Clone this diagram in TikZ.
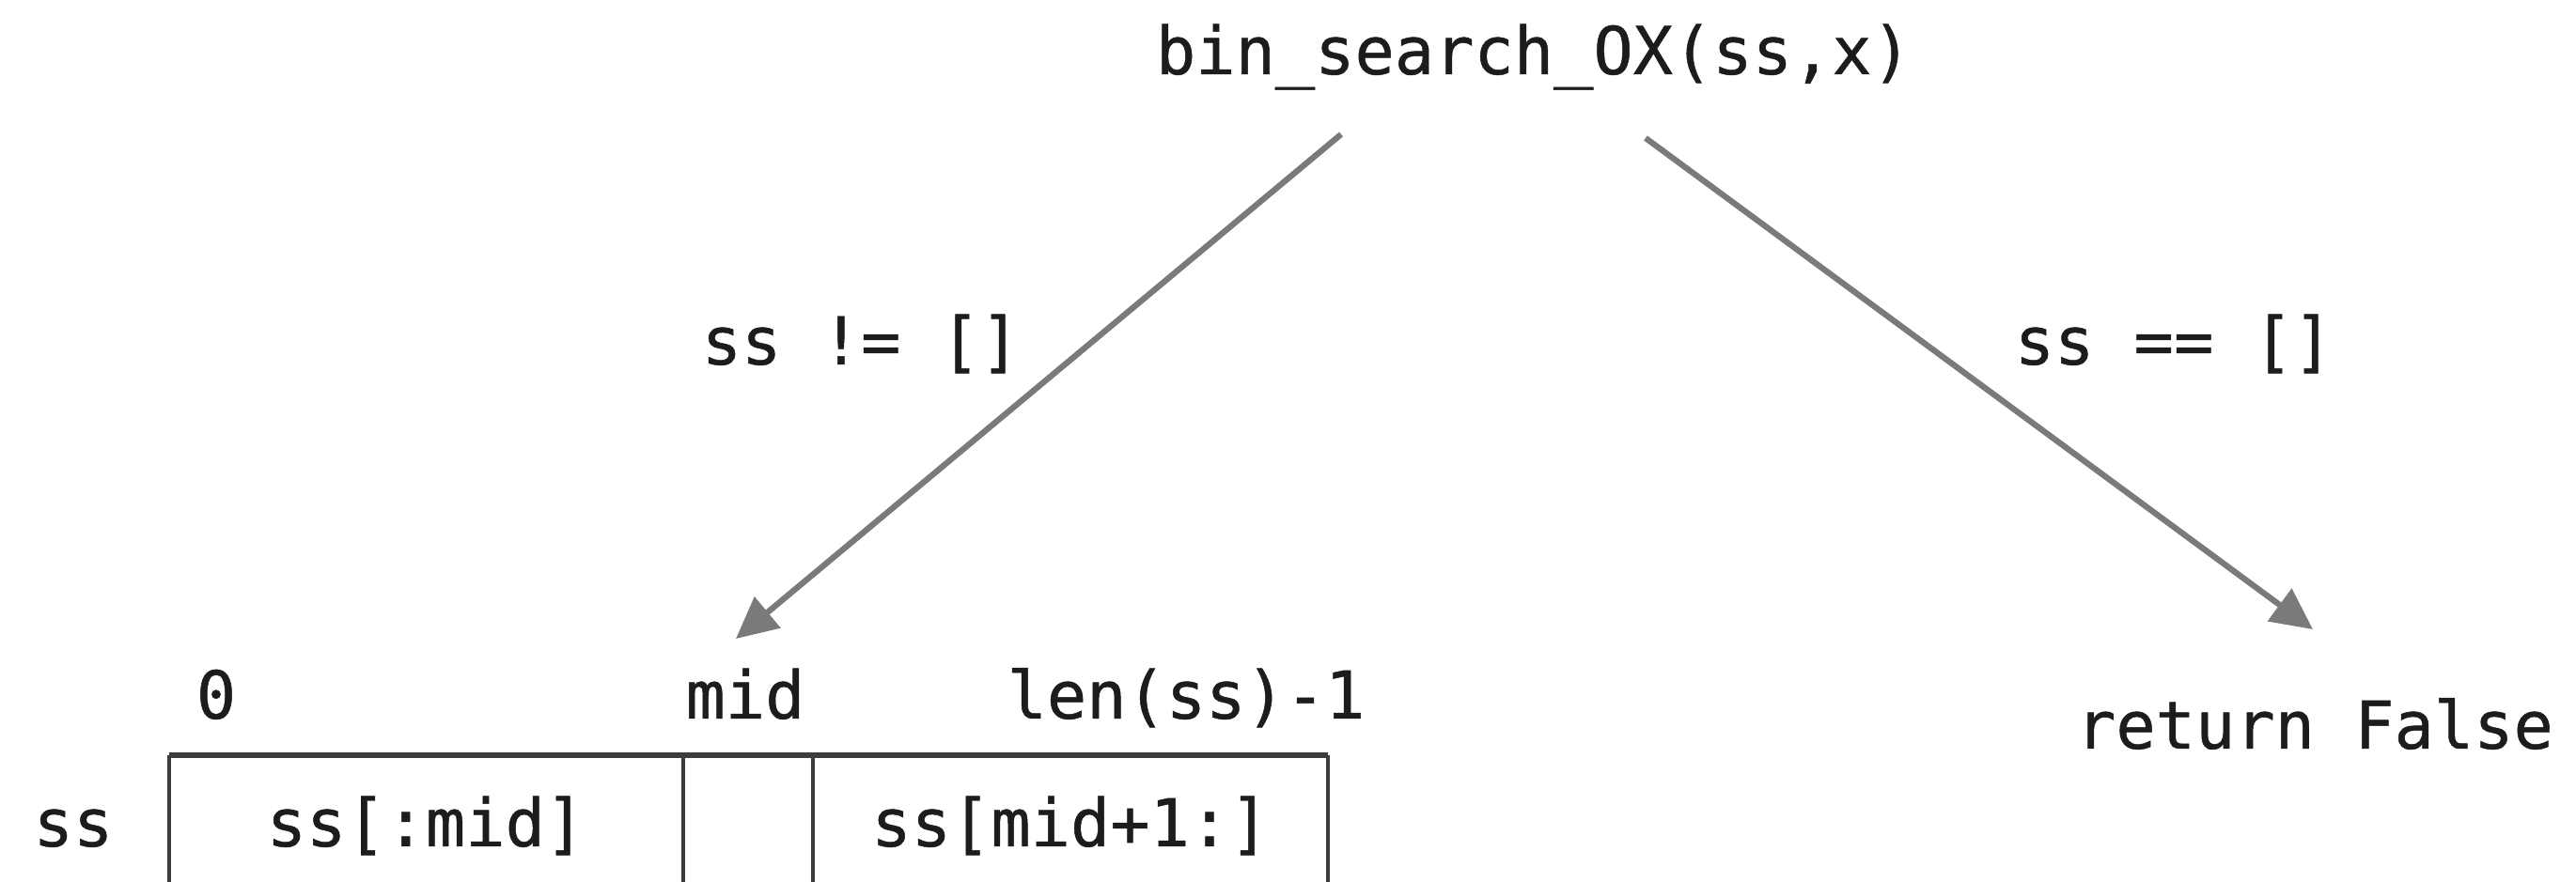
\documentclass[tikz,border=0pt]{standalone}
\usepackage{fontspec}
\setmonofont[FakeBold=0.7]{DejaVu Sans Mono}
\usetikzlibrary{arrows.meta}
\definecolor{arrowgray}{RGB}{122,122,122}
\definecolor{linegray}{RGB}{60,60,60}
\definecolor{inkblack}{RGB}{28,28,28}
\begin{document}
\begin{tikzpicture}[
    code/.style={font=\ttfamily\fontsize{20}{24}\selectfont, text=inkblack, anchor=base, inner sep=0pt},
    branch/.style={draw=arrowgray, line width=1.8pt, -{Triangle[length=0.44cm, width=0.42cm]}},
    cell/.style={draw=linegray, line width=0.95pt}
]
    \useasboundingbox (0,0) rectangle (27.41,-9.39);

    % Top: the call and its two branches
    \node[code] (call) at (16.32,-0.79) {bin\_search\_OX(ss,x)};
    \coordinate (callL) at (14.27,-1.43);
    \coordinate (callR) at (17.51,-1.47);
    \coordinate (tipL) at (7.83,-6.80);
    \coordinate (tipR) at (24.61,-6.70);
    \draw[branch] (callL) -- (tipL);
    \draw[branch] (callR) -- (tipR);
    \node[code] (notempty) at (9.16,-3.88) {ss != []};
    \node[code] (isempty) at (23.13,-3.88) {ss == []};

    % Right: empty list
    \node[code] (ret) at (24.63,-7.97) {return False};

    % Left: the list split at mid
    \node[code] (idx0) at (2.30,-7.65) {0};
    \node[code] (idxmid) at (7.93,-7.65) {mid};
    \node[code] (idxlast) at (12.62,-7.65) {len(ss)-1};
    \draw[draw=linegray, line width=1.5pt] (1.80,-8.04) -- (14.13,-8.04);
    \foreach \x in {1.80, 7.27, 8.65, 14.13}
        \draw[cell] (\x,-8.04) -- (\x,-9.45);
    \node[code] (name) at (0.78,-9.01) {ss};
    \node[code] (lefthalf) at (4.53,-9.01) {ss[:mid]};
    \node[code] (righthalf) at (11.39,-9.01) {ss[mid+1:]};
\end{tikzpicture}
\end{document}
